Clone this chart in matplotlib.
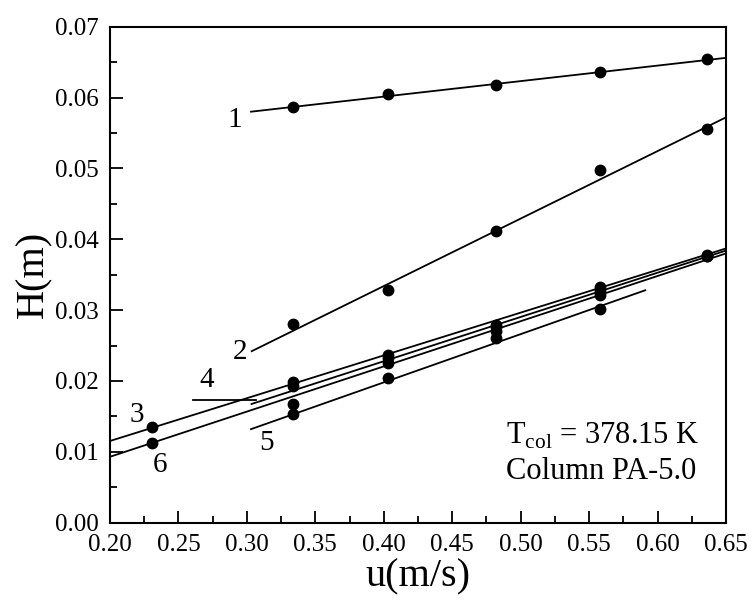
import numpy as np
import matplotlib
matplotlib.use('Agg')
import matplotlib.pyplot as plt

plt.rcParams['font.family'] = ['Liberation Serif', 'DejaVu Serif']
plt.rcParams['mathtext.fontset'] = 'custom'
plt.rcParams['mathtext.rm'] = 'Liberation Serif'

# measured points, u in m/s, H in m
u_all = [0.231, 0.334, 0.403, 0.482, 0.558, 0.636]
u_hi = [0.334, 0.403, 0.482, 0.558, 0.636]
u_5 = [0.334, 0.403, 0.482, 0.558]

h1 = [0.0586, 0.0605, 0.0618, 0.0636, 0.0654]
h2 = [0.0280, 0.0328, 0.0412, 0.0498, 0.0555]
h3 = [0.0135, 0.0199, 0.0237, 0.0279, 0.0332, 0.0378]
h4 = [0.0193, 0.0233, 0.0276, 0.0327, 0.0377]
h5 = [0.0154, 0.0204, 0.0260, 0.0302]
h6 = [0.0113, 0.0168, 0.0226, 0.0270, 0.0322, 0.0376]

# fitted lines (start, end)
fit_u = {'1': [0.303, 0.65], '2': [0.3035, 0.65], '3': [0.20, 0.65],
         '4': [0.3034, 0.65], '5': [0.303, 0.591], '6': [0.20, 0.65]}
fit_h = {'1': [0.0580, 0.0656], '2': [0.0242, 0.0572], '3': [0.01153, 0.0387],
         '4': [0.01675, 0.0384], '5': [0.0132, 0.0328], '6': [0.0093, 0.0380]}

fig = plt.figure(figsize=(7.52, 6.06), dpi=100)
ax = fig.add_axes([0.1463, 0.1375, 0.8191, 0.8185])

for k in fit_u:
    ax.plot(fit_u[k], fit_h[k], color='black', lw=1.3)

for u, h in [(u_hi, h1), (u_hi, h2), (u_all, h3), (u_hi, h4), (u_5, h5), (u_all, h6)]:
    ax.plot(u, h, 'o', color='black', ms=7.5, ls='none')

# leader for label 4
ax.plot([0.2605, 0.307], [0.0173, 0.0173], color='black', lw=1.3)

lab = {'1': (0.291, 0.0568), '2': (0.2946, 0.0241), '3': (0.2195, 0.0152),
       '4': (0.2707, 0.0201), '5': (0.314, 0.0112), '6': (0.2366, 0.0081)}
for k, (x, y) in lab.items():
    ax.text(x, y, k, fontsize=21, ha='center', va='center')

ax.text(0.4894, 0.0111, r'T$_{\mathrm{col}}$ = 378.15 K', fontsize=22,
        ha='left', va='baseline')
ax.text(0.4894, 0.0061, 'Column PA-5.0', fontsize=22, ha='left', va='baseline')

ax.set_xlim(0.20, 0.65)
ax.set_ylim(0.0, 0.07)
ax.set_xticks(np.arange(0.20, 0.651, 0.05))
ax.set_yticks(np.arange(0.0, 0.0701, 0.01))
ax.set_xticks(np.arange(0.225, 0.65, 0.05), minor=True)
ax.set_yticks(np.arange(0.005, 0.07, 0.01), minor=True)
ax.xaxis.set_major_formatter(matplotlib.ticker.FormatStrFormatter('%.2f'))
ax.yaxis.set_major_formatter(matplotlib.ticker.FormatStrFormatter('%.2f'))
ax.tick_params(which='both', direction='in', top=False, right=False, labelsize=18, width=1.3)
ax.tick_params(which='major', length=9, pad=8)
ax.tick_params(which='minor', length=5)
for s in ax.spines.values():
    s.set_linewidth(1.5)

ax.set_xlabel('u(m/s)', fontsize=29, labelpad=2)
ax.set_ylabel('H(m)', fontsize=29, labelpad=2)

fig.savefig('out.png', dpi=100)
